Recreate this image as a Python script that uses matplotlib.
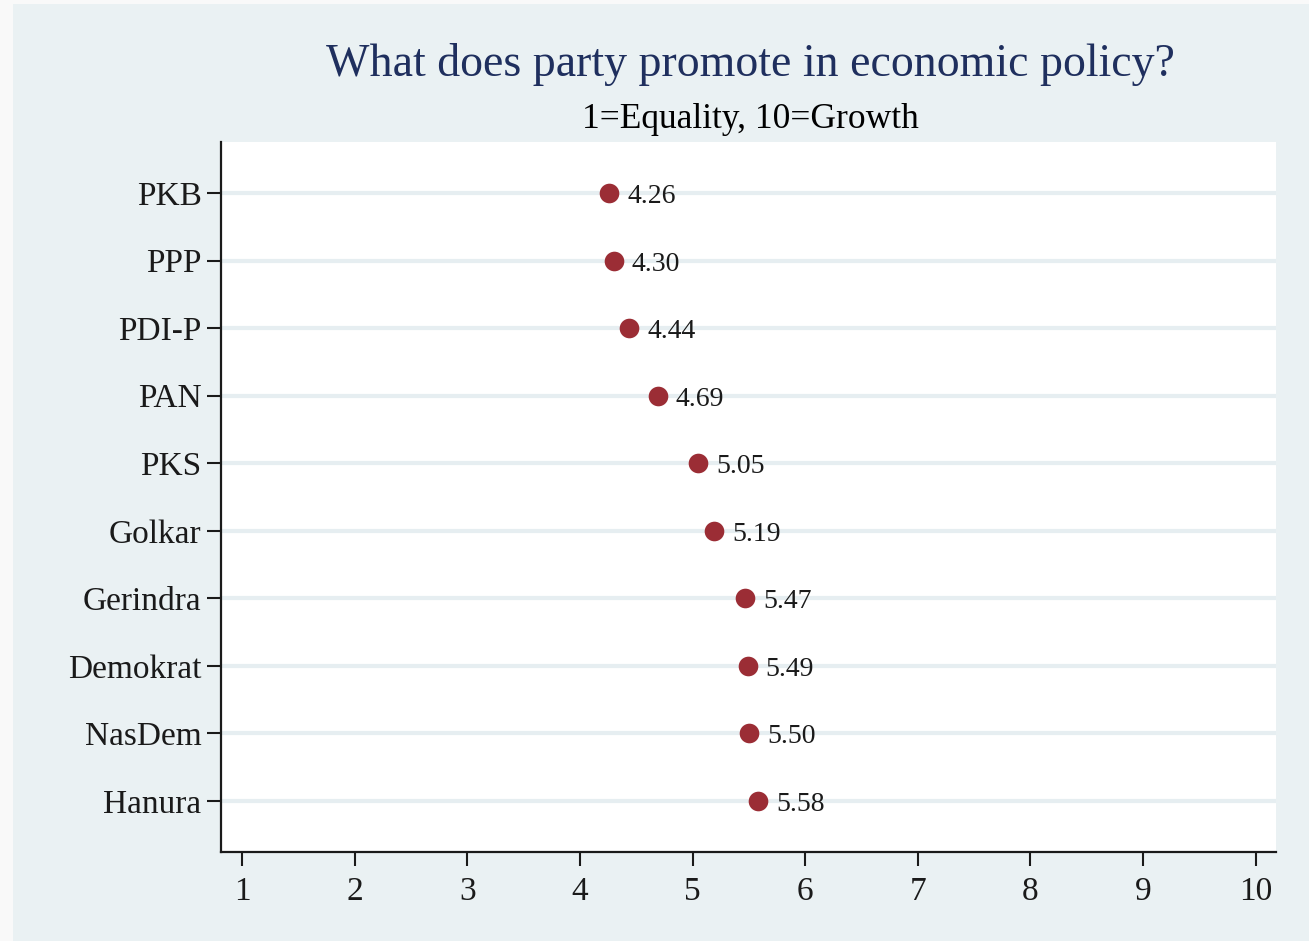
import numpy as np
import matplotlib
matplotlib.use('Agg')
import matplotlib.pyplot as plt
from matplotlib.patches import Rectangle

# party means, 1=Equality, 10=Growth
parties = ['PKB', 'PPP', 'PDI-P', 'PAN', 'PKS', 'Golkar',
           'Gerindra', 'Demokrat', 'NasDem', 'Hanura']
scores = [4.26, 4.30, 4.44, 4.69, 5.05, 5.19, 5.47, 5.49, 5.50, 5.58]
x_ticks = list(range(1, 11))

plt.rcParams['font.family'] = ['Liberation Serif', 'DejaVu Serif']

W, H = 1309, 941
fig = plt.figure(figsize=(W / 100, H / 100), dpi=100)
fig.patch.set_facecolor('#f9f9f9')
# stata-style graph region
fig.patches.append(Rectangle((13 / W, 0), 1 - 13 / W, 1 - 4 / H,
                             transform=fig.transFigure, facecolor='#eaf1f3',
                             edgecolor='none', zorder=-10))

# plot region in pixels: left 221, right 1276, top 142, bottom 852
ax = fig.add_axes([221 / W, 1 - 852 / H, (1276 - 221) / W, (852 - 142) / H])
ax.set_facecolor('white')

y = np.arange(len(parties))
for yi in y:
    ax.axhline(yi, color='#e6eef1', lw=3, zorder=1)

ax.scatter(scores, y, s=200, color='#9b2d35', zorder=3, linewidths=0)
for s, yi in zip(scores, y):
    ax.annotate(f'{s:.2f}', (s, yi), xytext=(13, -2.5), textcoords='offset points',
                va='center', ha='left', fontsize=20, color='#1a1a1a')

ax.set_xlim(0.814, 10.18)
ax.set_ylim(9.755, -0.755)
ax.set_xticks(x_ticks)
ax.set_yticks(y)
ax.set_yticklabels(parties)
ax.tick_params(axis='both', direction='out', length=10, width=1.5,
               labelsize=24, colors='#1a1a1a', pad=4)
ax.tick_params(axis='x', pad=8)

for side in ['top', 'right']:
    ax.spines[side].set_visible(False)
for side in ['left', 'bottom']:
    ax.spines[side].set_linewidth(1.6)
    ax.spines[side].set_color('#1a1a1a')

fig.text(750 / W, 1 - 65 / H, 'What does party promote in economic policy?',
         ha='center', va='center', fontsize=33, color='#1f2f5e')
fig.text(750 / W, 1 - 119 / H, '1=Equality, 10=Growth',
         ha='center', va='center', fontsize=25.5, color='black')

fig.savefig('out.png', dpi=100, facecolor=fig.get_facecolor())
